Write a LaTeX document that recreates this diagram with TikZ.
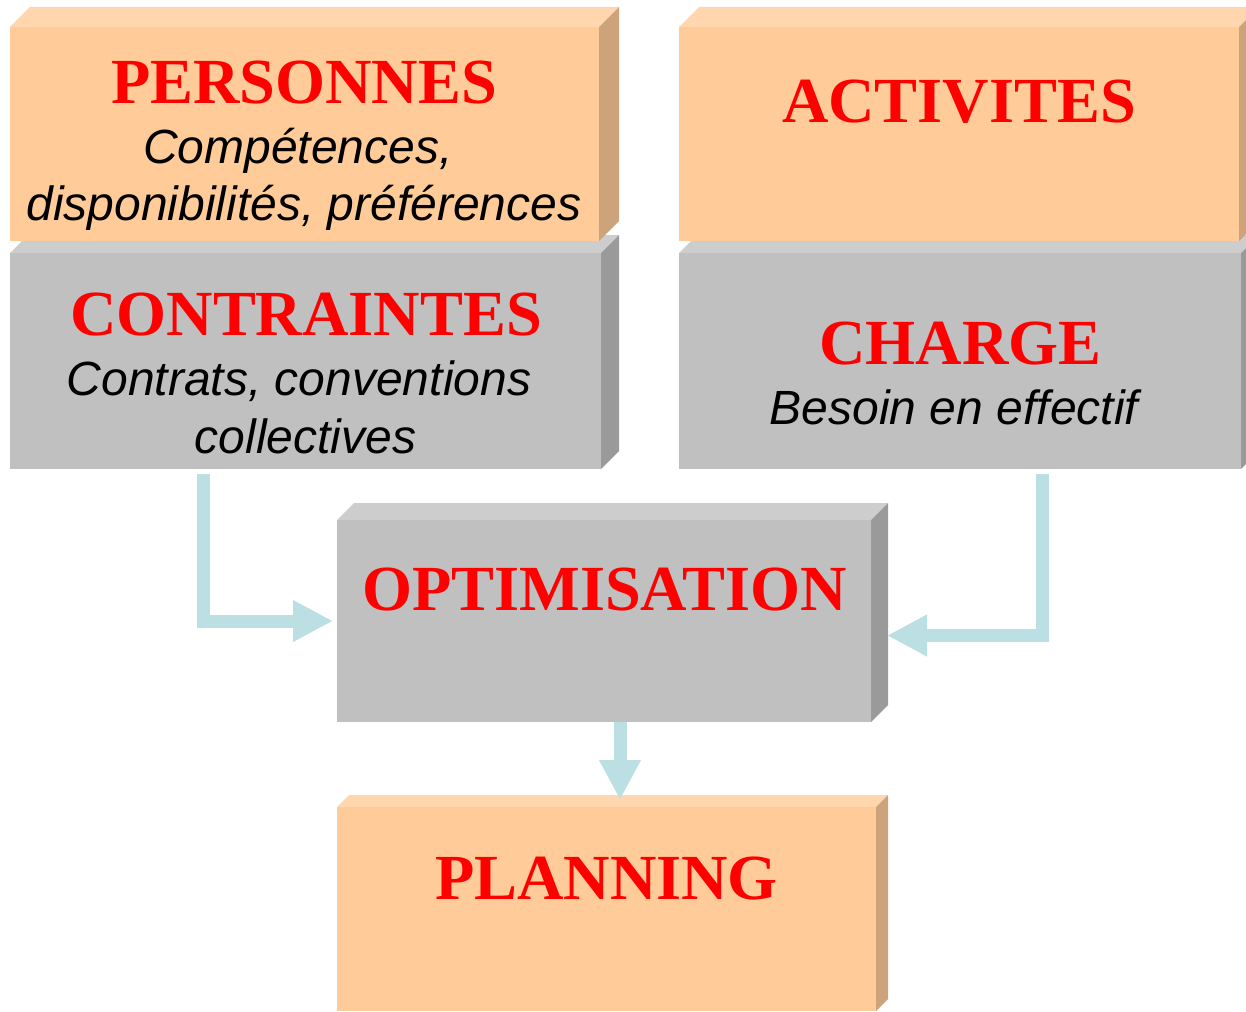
\documentclass[tikz,border=0pt]{standalone}
\usepackage{fontspec}
\setmainfont{Liberation Serif}
\newfontfamily\notefont{Liberation Sans}
\usetikzlibrary{arrows.meta,fit}

\begin{document}
\begin{tikzpicture}[x=1pt, y=-1pt]
  % Colors
  \definecolor{peach}{HTML}{ffcc99}
  \definecolor{peachtop}{HTML}{ffd6ad}
  \definecolor{peachside}{HTML}{cca37a}
  \definecolor{grey}{HTML}{c0c0c0}
  \definecolor{greytop}{HTML}{cdcdcd}
  \definecolor{greyside}{HTML}{9a9a9a}
  \definecolor{flowblue}{HTML}{bbdfe3}
  \definecolor{heading}{HTML}{ff0000}

  % Configurations
  \tikzset{
    face/.style={fill=#1, inner sep=0, outer sep=0},
    title/.style={anchor=base, text=heading, font=\bfseries\fontsize{64.3}{70}\selectfont},
    note/.style={anchor=base, font=\notefont\itshape\fontsize{48}{55}\selectfont},
    flow/.style={line width=13pt, draw=flowblue, -{Triangle[width=39pt, length=40pt]}}
  }

  % Drawing objects
  \newcommand{\bevelbox}[7]{% palette, name, left, top, right, bottom, depth
    \fill [#1top] (#3,#4) -- +(#7,-#7) -- (#5+#7,#4-#7) -- (#5,#4) -- cycle;
    \fill [#1side] (#5,#4) -- +(#7,-#7) -- (#5+#7,#6-#7) -- (#5,#6) -- cycle;
    \node [face=#1, fit={(#3,#4) (#5,#6)}] (#2) {};
  }

  % Bounding box
  \useasboundingbox (0,0) rectangle (1246,1011);
  \clip (0,0) rectangle (1246,1011);

  % Boxes
  \bevelbox{grey}{contraintes}{10}{253}{601}{469}{18}
  \bevelbox{grey}{charge}{679}{253}{1241}{469}{18}
  \bevelbox{peach}{personnes}{10}{27}{599}{241}{20}
  \bevelbox{peach}{activites}{679}{27}{1239}{241}{20}
  \bevelbox{grey}{optim}{337}{520}{871}{722}{17}
  \bevelbox{peach}{planning}{337}{807}{876}{1011}{12}

  % Texts
  \node [title] (personnes-title) at (304,104) {PERSONNES};
  \node [note] (personnes-line1) at (298,164) {Compétences,};
  \node [note] (personnes-line2) at (304,220) {disponibilités, préférences};
  \node [title] (contraintes-title) at (306,335) {CONTRAINTES};
  \node [note] (contraintes-line1) at (299,395) {Contrats, conventions};
  \node [note] (contraintes-line2) at (305.5,453) {collectives};
  \node [title] (activites-title) at (959,123) {ACTIVITES};
  \node [title] (charge-title) at (960.5,364) {CHARGE};
  \node [note] (charge-line1) at (954,424) {Besoin en effectif};
  \node [title] (optim-title) at (604.5,610) {OPTIMISATION};
  \node [title] (planning-title) at (606.5,899) {PLANNING};

  % Arrows
  \draw [flow] ([shift={(-102pt,-5pt)}]contraintes.south) |- ([xshift=-4pt]optim.west);
  \draw [flow] ([shift={(82.5pt,-5pt)}]charge.south) |- ([shift={(16pt,-14.5pt)}]optim.east);
  \draw [flow] ([xshift=16pt]optim.south) -- ([shift={(13.5pt,7pt)}]planning.north);
\end{tikzpicture}
\end{document}
